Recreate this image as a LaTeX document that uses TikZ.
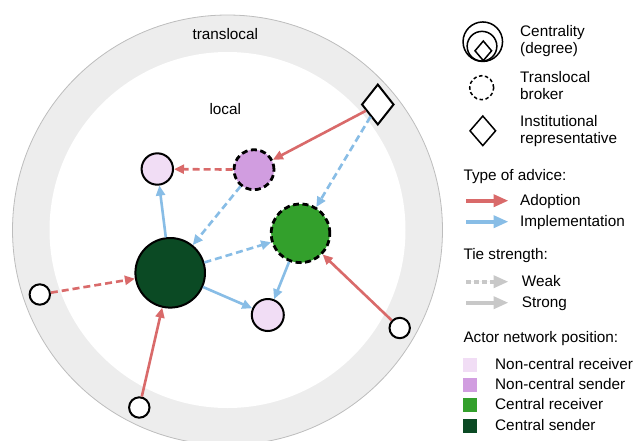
\documentclass[tikz,border=0pt]{standalone}
\usepackage{fontspec}
\setmainfont{Liberation Sans}
\usepackage{tikz}
\usepackage{xcolor}
\usetikzlibrary{arrows.meta,shapes.geometric}
\definecolor{RingGray}{HTML}{EDEDED}
\definecolor{RingEdge}{HTML}{BDBDBD}
\definecolor{AdoptRed}{HTML}{D96A6A}
\definecolor{ImplBlue}{HTML}{88BDE6}
\definecolor{TieGray}{HTML}{C8C8C8}
\definecolor{NcRecv}{HTML}{F1DDF5}
\definecolor{NcSend}{HTML}{D19DE0}
\definecolor{CRecv}{HTML}{33A02C}
\definecolor{CSend}{HTML}{0B4A24}

\begin{document}
\begin{tikzpicture}[
      x=1pt,y=-1pt,
      font=\fontsize{15.3}{17}\selectfont,
      >={Triangle[length=10pt,width=9pt]},
      actor/.style={circle,draw=black,line width=2pt,inner sep=0pt},
      broker/.style={actor,line width=2.8pt,dash pattern=on 6pt off 3.5pt},
      outsider/.style={actor,fill=white,minimum size=20.4pt},
      inst/.style={diamond,draw=black,fill=white,line width=2pt,inner sep=0pt,minimum width=32.3pt,minimum height=40.7pt},
      adopt/.style={->,line width=2.6pt,draw=AdoptRed},
      implement/.style={->,line width=2.6pt,draw=ImplBlue},
      weaktie/.style={dash pattern=on 7pt off 4pt},
      lab/.style={inner sep=0pt,anchor=base west,align=left},
      key/.style={line width=4pt,-{Triangle[length=15pt,width=12pt]}},
      swatch/.style={rectangle,inner sep=0pt,minimum size=14pt}
    ]
      \useasboundingbox (0,0) rectangle (633,440);
      \clip (0,0) rectangle (633,440);
      \filldraw[fill=RingGray,draw=RingEdge,line width=0.8pt] (227.5,230) circle[radius=215pt];
      \fill[white] (227.5,230) circle[radius=178pt];
      \node[inner sep=0pt,anchor=base] (tl) at (225.3,39) {translocal};
      \node[inner sep=0pt,anchor=base] (lo) at (225.3,114) {local};

      \node[actor,fill=NcRecv,minimum size=31.4pt] (nr1) at (157.3,169) {};
      \node[broker,fill=NcSend,minimum size=40pt] (ns) at (254,169.7) {};
      \node[broker,fill=CRecv,minimum size=58.6pt] (cr) at (300.5,233.3) {};
      \node[actor,fill=CSend,minimum size=69.6pt] (cs) at (170.2,272.8) {};
      \node[actor,fill=NcRecv,minimum size=32pt] (nr2) at (267.8,315) {};
      \node[inst] (rep) at (377.8,104.5) {};
      \node[outsider] (o1) at (39.8,294.5) {};
      \node[outsider] (o2) at (139.3,407.5) {};
      \node[outsider] (o3) at (399.7,328) {};

      \draw[adopt] (rep) -- (ns);
      \draw[adopt,weaktie] (ns) -- (nr1);
      \draw[implement,weaktie] (rep) -- (cr);
      \draw[implement,weaktie] (ns) -- (cs);
      \draw[implement] (cs) -- (nr1);
      \draw[implement,weaktie] (cs) -- (cr);
      \draw[implement] (cs) -- (nr2);
      \draw[implement] (cr) -- (nr2);
      \draw[adopt,weaktie] (o1) -- (cs);
      \draw[adopt] (o2) -- (cs);
      \draw[adopt] (o3) -- (cr);

      \node[circle,draw=black,line width=1.5pt,inner sep=0pt,minimum size=39.5pt] (kc1) at (482.8,41.7) {};
      \node[circle,draw=black,line width=1.5pt,inner sep=0pt,minimum size=29.7pt] (kc2) at (482,46.2) {};
      \node[diamond,draw=black,line width=1.5pt,inner sep=0pt,minimum width=17.2pt,minimum height=20.2pt] (kc3) at (483.3,50.8) {};
      \node[lab] (kct) at (520,53.5) {Centrality\\(degree)};
      \node[circle,draw=black,line width=1.5pt,inner sep=0pt,minimum size=24pt,dash pattern=on 3.5pt off 2.5pt] (kb) at (481.7,87.7) {};
      \node[lab] (kbt) at (520,99.7) {Translocal\\broker};
      \node[diamond,draw=black,line width=1.5pt,inner sep=0pt,minimum width=26.2pt,minimum height=30.2pt] (kr) at (482.8,130.8) {};
      \node[lab] (krt) at (520,143.5) {Institutional\\representative};

      \node[lab] (hadv) at (463.3,180.7) {Type of advice:};
      \coordinate (a1) at (466,200.7);
      \coordinate (a2) at (508.5,200.7);
      \draw[key,draw=AdoptRed,fill=AdoptRed] (a1) -- (a2);
      \node[lab] (kat) at (520,205.7) {Adoption};
      \coordinate (i1) at (466,221.7);
      \coordinate (i2) at (508.5,221.7);
      \draw[key,draw=ImplBlue,fill=ImplBlue] (i1) -- (i2);
      \node[lab] (kit) at (520,226.7) {Implementation};

      \node[lab] (htie) at (463.3,259.3) {Tie strength:};
      \coordinate (w1) at (466,281.7);
      \coordinate (w2) at (508.5,281.7);
      \draw[key,draw=TieGray,fill=TieGray,dash pattern=on 5pt off 3pt] (w1) -- (w2);
      \node[lab] (kwt) at (521.7,286.7) {Weak};
      \coordinate (s1) at (466,302.7);
      \coordinate (s2) at (508.5,302.7);
      \draw[key,draw=TieGray,fill=TieGray] (s1) -- (s2);
      \node[lab] (kst) at (521.7,307.7) {Strong};

      \node[lab] (hpos) at (463.3,342.7) {Actor network position:};
      \node[swatch,fill=NcRecv] (q1) at (469.7,364.5) {};
      \node[lab] (q1t) at (495,369.3) {Non-central receiver};
      \node[swatch,fill=NcSend] (q2) at (469.7,385) {};
      \node[lab] (q2t) at (495,389.6) {Non-central sender};
      \node[swatch,fill=CRecv] (q3) at (469.7,405.2) {};
      \node[lab] (q3t) at (495,409.9) {Central receiver};
      \node[swatch,fill=CSend] (q4) at (469.7,425.5) {};
      \node[lab] (q4t) at (495,430.2) {Central sender};
    \end{tikzpicture}
\end{document}
